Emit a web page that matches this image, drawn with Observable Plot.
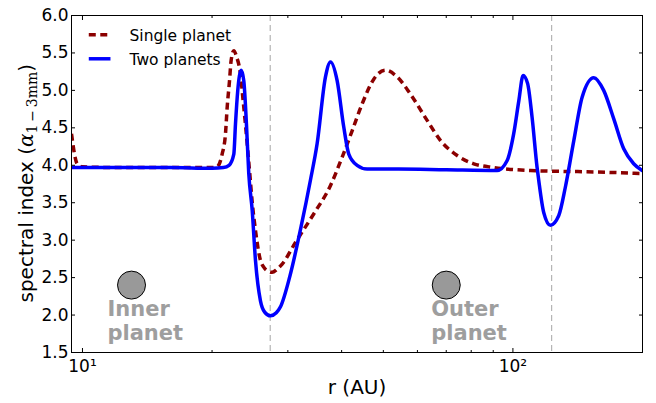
<!DOCTYPE html>
<html><head><meta charset="utf-8">
<script src="https://cdn.jsdelivr.net/npm/d3@7"></script>
<script src="https://cdn.jsdelivr.net/npm/@observablehq/plot@0.6"></script>
<style>body{margin:0;background:#fff} svg{display:block}</style>
</head><body><div id="chart"></div>
<script>
// Single planet (dashed dark red)
const singleR = [9.43, 9.72, 10.0, 12, 16, 20.0, 20.55, 21.11, 21.49, 21.69, 21.96, 22.15, 22.47, 22.8, 23.28, 23.62, 23.91, 24.21, 24.47, 24.8, 25.23, 25.91, 26.37, 26.9, 27.58, 28.3, 29.1, 31.25, 34.45, 37.69, 40.12, 42.31, 44.64, 47.5, 50.56, 53.83, 57.8, 63.2, 67.9, 74.2, 81.1, 90.2, 109.9, 157, 200];
const singleAlpha = [4.42, 4.02, 3.98, 3.97, 3.97, 3.97, 3.98, 4.15, 4.42, 4.78, 5.13, 5.40, 5.53, 5.45, 5.22, 4.86, 4.55, 4.20, 3.89, 3.50, 3.13, 2.73, 2.64, 2.59, 2.57, 2.61, 2.68, 2.97, 3.35, 3.73, 4.11, 4.46, 4.82, 5.15, 5.27, 5.18, 4.95, 4.60, 4.33, 4.13, 4.02, 3.97, 3.93, 3.91, 3.89];
// Two planets (solid blue)
const twoR = [9.43, 12, 16, 20, 21.25, 21.9, 22.47, 22.67, 22.95, 23.37, 23.70, 24.04, 24.34, 24.79, 25.23, 25.91, 26.5, 27.34, 28.2, 28.84, 30.3, 32.2, 33.85, 35.09, 36.69, 37.69, 39.05, 40.46, 41.56, 43.46, 45.85, 54.3, 70, 91.9, 96.9, 100.4, 103.2, 105.6, 108.2, 110.8, 113.8, 114.8, 117.9, 122.2, 127.8, 132.4, 138.5, 144.8, 154.1, 162.5, 171.5, 180.9, 190.8, 199.6];
const twoAlpha = [3.97, 3.97, 3.97, 3.96, 3.97, 4.0, 4.15, 4.55, 5.0, 5.27, 5.13, 4.55, 3.89, 3.40, 2.73, 2.19, 2.04, 1.99, 2.03, 2.11, 2.51, 3.18, 3.80, 4.29, 5.18, 5.38, 5.13, 4.51, 4.15, 4.0, 3.95, 3.95, 3.94, 3.93, 4.06, 4.42, 4.86, 5.20, 5.09, 4.64, 3.97, 3.80, 3.37, 3.20, 3.33, 3.71, 4.33, 4.91, 5.17, 5.0, 4.62, 4.22, 4.02, 3.93];

const planetR = [13, 70];
const planetAlpha = [2.4, 2.4];
const planetGapR = [27.3, 123];
const planetLabels = ["Inner\nplanet", "Outer\nplanet"];
const planetLabelR = [11.43, 64.6];
const planetLabelAlpha = [2.21, 2.21];

const yTicks = [1.5, 2.0, 2.5, 3.0, 3.5, 4.0, 4.5, 5.0, 5.5, 6.0];
const xMajor = [10, 100];
const xMinor = [20, 30, 40, 50, 60, 70, 80, 90, 200];
const xTickLabels = ["10\u00B9", "10\u00B2"];

const legendNames = ["Single planet", "Two planets"];
const legendR = [10.343, 11.616, 12.86];
const legendAlpha = [5.742, 5.422];
const legendTextAlpha = [5.724, 5.408];

const single = singleR.map((r, i) => ({r, a: singleAlpha[i]}));
const two = twoR.map((r, i) => ({r, a: twoAlpha[i]}));
const planets = planetR.map((r, i) => ({r, a: planetAlpha[i]}));
const labels = planetLabels.map((t, i) => ({t, r: planetLabelR[i], a: planetLabelAlpha[i]}));
const legendTexts = legendNames.map((n, i) => ({n, x: legendR[2], y: legendTextAlpha[i]}));

const chart = Plot.plot({
  width: 656, height: 403,
  marginLeft: 71, marginRight: 14, marginTop: 15, marginBottom: 51,
  style: {fontFamily: "DejaVu Sans", fontSize: "17px", color: "black", background: "white"},
  x: {type: "log", domain: [9.43, 200]},
  y: {domain: [1.5, 6.0]},
  marks: [
    Plot.ruleX(planetGapR, {stroke: "#b4b4b4", strokeWidth: 1.2, strokeDasharray: "6,4"}),
    Plot.line(single, {x: "r", y: "a", stroke: "#8B0000", strokeWidth: 3.5, strokeDasharray: "7,4.5", strokeLinecap: "butt", curve: "monotone-x", clip: true}),
    Plot.line(two, {x: "r", y: "a", stroke: "#0000FF", strokeWidth: 3.5, curve: "monotone-x", clip: true}),
    Plot.dot(planets, {x: "r", y: "a", r: 14, fill: "#999999", stroke: "black", strokeWidth: 1}),
    Plot.text(labels, {x: "r", y: "a", text: "t", textAnchor: "start", lineAnchor: "top", lineHeight: 1.12, fontSize: 21, fontWeight: "bold", fill: "#9e9e9e"}),
    Plot.link([{x1: legendR[0], x2: legendR[1], y: legendAlpha[0]}], {x1: "x1", x2: "x2", y1: "y", y2: "y", stroke: "#8B0000", strokeWidth: 3.5, strokeDasharray: "7,4.5", strokeLinecap: "butt"}),
    Plot.link([{x1: legendR[0], x2: legendR[1], y: legendAlpha[1]}], {x1: "x1", x2: "x2", y1: "y", y2: "y", stroke: "#0000FF", strokeWidth: 3.5, strokeLinecap: "butt"}),
    Plot.text(legendTexts, {x: "x", y: "y", text: "n", textAnchor: "start", fontSize: 15.5, fill: "black"}),
    Plot.frame({stroke: "black", strokeWidth: 1}),
    Plot.axisY(yTicks, {anchor: "left", tickSize: -4, fill: "none", label: null}),
    Plot.axisY(yTicks, {anchor: "right", tickSize: -4, fill: "none", label: null}),
    Plot.axisY(yTicks, {anchor: "left", tickSize: 0, tickPadding: 3, tickFormat: d3.format(".1f"), fontSize: 17, label: null}),
    Plot.axisX(xMajor, {anchor: "bottom", tickSize: -4, fill: "none", label: null}),
    Plot.axisX(xMajor, {anchor: "top", tickSize: -4, fill: "none", label: null}),
    Plot.axisX(xMinor, {anchor: "bottom", tickSize: -2, fill: "none", label: null}),
    Plot.axisX(xMinor, {anchor: "top", tickSize: -2, fill: "none", label: null}),
    Plot.axisX(xMajor, {anchor: "bottom", tickSize: 0, tickPadding: 7, tickFormat: d => xTickLabels[xMajor.indexOf(d)], fontSize: 17, label: null}),
    Plot.text([0], {frameAnchor: "bottom", text: () => "r (AU)", lineAnchor: "bottom", dy: 41, fontSize: 20}),
    Plot.text([0], {frameAnchor: "left", text: () => "spectral index (", rotate: -90, textAnchor: "start", lineAnchor: "bottom", dx: -39, dy: 118.5, fontSize: 20})
  ]
});

document.getElementById("chart").appendChild(chart);

// y label math subscript
d3.select(chart).selectAll("text").each(function() {
  const t = d3.select(this);
  if (this.textContent === "spectral index (") {
    this.textContent = "";
    t.append("tspan").text("spectral index (");
    t.append("tspan").attr("font-family", "DejaVu Serif").attr("font-style", "italic").text("\u03B1");
    t.append("tspan").attr("font-family", "DejaVu Serif").attr("font-size", 14).attr("dy", 4).text("1\u2009\u2212\u20093mm");
    t.append("tspan").attr("dy", -4).text(")");
  }
});
</script>
</body></html>
